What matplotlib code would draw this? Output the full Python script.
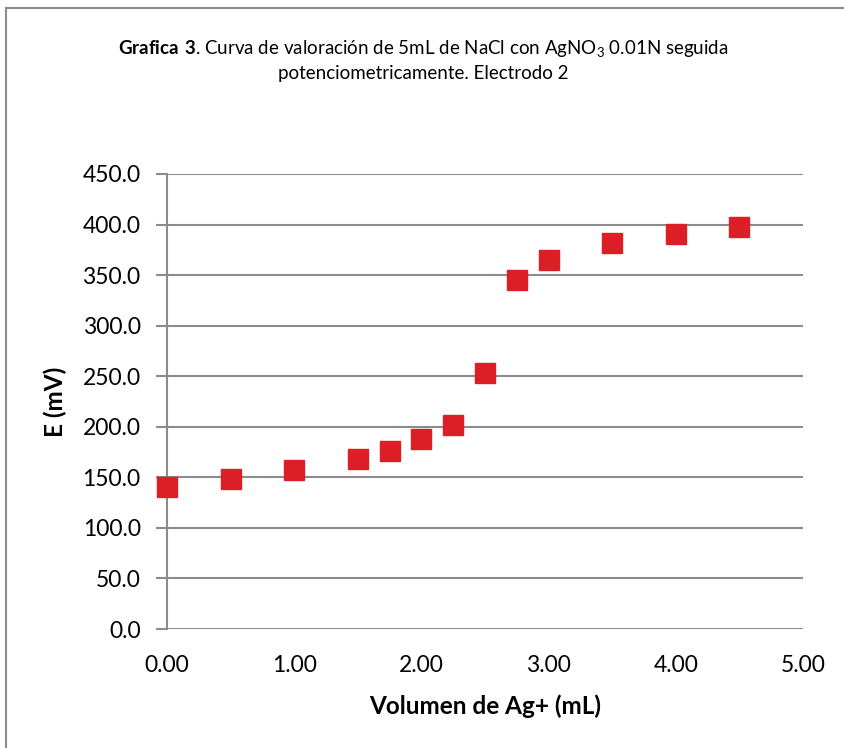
import matplotlib.pyplot as plt
from matplotlib.lines import Line2D

plt.rcParams['font.family'] = ['Lato', 'DejaVu Sans']
plt.rcParams['mathtext.fontset'] = 'custom'
plt.rcParams['mathtext.rm'] = 'Lato'
plt.rcParams['mathtext.bf'] = 'Lato:bold'

volumen = [0.0, 0.5, 1.0, 1.5, 1.75, 2.0, 2.25, 2.5, 2.75, 3.0, 3.5, 4.0, 4.5]
potencial = [140.4, 148.3, 157.3, 168.0, 176.0, 188.0, 202.0, 253.0, 345.5, 364.5, 381.5, 390.5, 397.5]
yticks = [0, 50, 100, 150, 200, 250, 300, 350, 400, 450]
xticks = [0, 1, 2, 3, 4, 5]

fig = plt.figure(figsize=(8.45, 7.48), dpi=100)
W, H = 845, 748
ax = fig.add_axes([167 / W, 1 - 629 / H, (803 - 167) / W, (629 - 174) / H])

# marco exterior gris (solo lados izquierdo y superior visibles)
gris = '#8c8c8c'
fig.add_artist(Line2D([6 / W, 6 / W], [0, 1 - 8 / H], transform=fig.transFigure,
                      color=gris, linewidth=1.5))
fig.add_artist(Line2D([6 / W, 1], [1 - 8 / H, 1 - 8 / H], transform=fig.transFigure,
                      color=gris, linewidth=1.5))

ax.plot(volumen, potencial, linestyle='none', marker='s', markersize=14.5,
        color='#dc1f26', markeredgecolor='#dc1f26', zorder=3, clip_on=False)

ax.set_xlim(0, 5)
ax.set_ylim(0, 450)
ax.set_yticks(yticks)
ax.set_xticks(xticks)
ax.set_yticklabels(['%.1f' % v for v in yticks])
ax.set_xticklabels(['%.2f' % v for v in xticks])
ax.grid(axis='y', color=gris, linewidth=1.5)
ax.set_axisbelow(True)
for s in ['top', 'right', 'bottom']:
    ax.spines[s].set_visible(False)
ax.spines['left'].set_color(gris)
ax.spines['left'].set_linewidth(1.5)
ax.tick_params(axis='y', length=8, width=1.5, color=gris, labelsize=16.5, pad=11)
ax.tick_params(axis='x', length=0, labelsize=16.5, pad=19)

ax.set_ylabel('E (mV)', fontsize=17.5, fontweight='bold', labelpad=11)
ax.set_xlabel('Volumen de Ag+ (mL)', fontsize=17.5, fontweight='bold', labelpad=13)

fig.text(423 / W, 1 - 60 / H,
         r'$\mathbf{Grafica\ 3}$. Curva de valoración de 5mL de NaCl con AgNO$_3$ 0.01N seguida' + '\n'
         + 'potenciometricamente. Electrodo 2',
         ha='center', va='center', multialignment='center', fontsize=13.5, linespacing=1.35)

fig.savefig('out.png', dpi=100)
